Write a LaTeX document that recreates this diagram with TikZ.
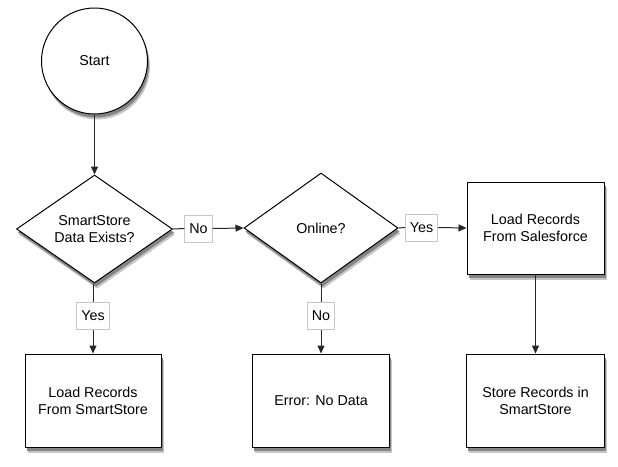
\documentclass[tikz,border=0pt]{standalone}
\usepackage{fontspec}
\setmainfont{Liberation Sans}
\usetikzlibrary{shapes.geometric,arrows.meta}
\begin{document}
\begin{tikzpicture}[x=1pt,y=-1pt,
  every node/.style={font=\fontsize{14.3}{17}\selectfont, text=black, align=center},
  startnode/.style={circle,draw=black,line width=1pt,fill=white,minimum size=106pt,inner sep=0pt},
  decision/.style={diamond,draw=black,line width=1pt,fill=white,aspect=1.43,inner sep=0pt},
  procbox/.style={rectangle,draw=black,line width=1pt,fill=white,inner sep=0pt},
  lbl/.style={rectangle,draw=black!22,line width=0.8pt,fill=white,inner xsep=4.5pt,inner ysep=0pt,minimum height=27pt},
  conn/.style={line width=1pt,draw=black!85},
  arr/.style={conn,-{Triangle[length=8pt,width=7pt]}},
  shadowlight/.style={fill=black!22,draw=none},
  shadowdark/.style={fill=black!48,draw=none}
]
\fill[white] (0,0) rectangle (618,466);
% soft outer drop shadows
\fill[shadowlight] (97,66.5) circle (53);
\fill[shadowlight] (97,180.5) -- (175,234.5) -- (97,288.5) -- (19,234.5) -- cycle;
\fill[shadowlight] (323.5,178.5) -- (400.5,233.5) -- (323.5,288.5) -- (246.5,233.5) -- cycle;
\fill[shadowlight] (469.5,187.5) rectangle (606.5,279.5);
\fill[shadowlight] (27.5,359.5) rectangle (163.5,452.5);
\fill[shadowlight] (255,359.5) rectangle (392,452.5);
\fill[shadowlight] (469,359.5) rectangle (607,452.5);
% darker inner drop shadows
\fill[shadowdark] (96,64.5) circle (53);
\fill[shadowdark] (96,178.5) -- (174,232.5) -- (96,286.5) -- (18,232.5) -- cycle;
\fill[shadowdark] (322.5,176.5) -- (399.5,231.5) -- (322.5,286.5) -- (245.5,231.5) -- cycle;
\fill[shadowdark] (468.5,185.5) rectangle (605.5,277.5);
\fill[shadowdark] (26.5,357.5) rectangle (162.5,450.5);
\fill[shadowdark] (254,357.5) rectangle (391,450.5);
\fill[shadowdark] (468,357.5) rectangle (606,450.5);

\node[startnode] (start) at (94.5,61) {Start};
\node[decision,minimum width=156pt,minimum height=108pt] (d1) at (94.5,229) {SmartStore\\Data Exists?};
\node[decision,minimum width=154pt,minimum height=110pt] (d2) at (321,228) {Online?};
\node[procbox,minimum width=137pt,minimum height=92pt] (sf) at (535.5,228) {Load Records\\From Salesforce};
\node[procbox,minimum width=136pt,minimum height=93pt] (b1) at (93,400.5) {Load Records\\From SmartStore};
\node[procbox,minimum width=137pt,minimum height=93pt] (b2) at (321,400.5) {Error: No Data};
\node[procbox,minimum width=138pt,minimum height=93pt] (b3) at (535.5,400.5) {Store Records in\\SmartStore};

\node[lbl] (no1) at (198.5,228.5) {No};
\node[lbl] (yes2) at (421.5,227.5) {Yes};
\node[lbl] (yes1) at (93,316) {Yes};
\node[lbl] (no2) at (321,316) {No};

\draw[arr] (start.south) -- (d1.north);
\draw[conn] (d1.east) -- (no1.west);
\draw[arr] (no1.east) -- (d2.west);
\draw[conn] (d2.east) -- (yes2.west);
\draw[arr] (yes2.east) -- (sf.west);
\draw[conn] (d1.south -| yes1.north) -- (yes1.north);
\draw[arr] (yes1.south) -- (b1.north);
\draw[conn] (d2.south) -- (no2.north);
\draw[arr] (no2.south) -- (b2.north);
\draw[arr] (sf.south) -- (b3.north);
\end{tikzpicture}
\end{document}
